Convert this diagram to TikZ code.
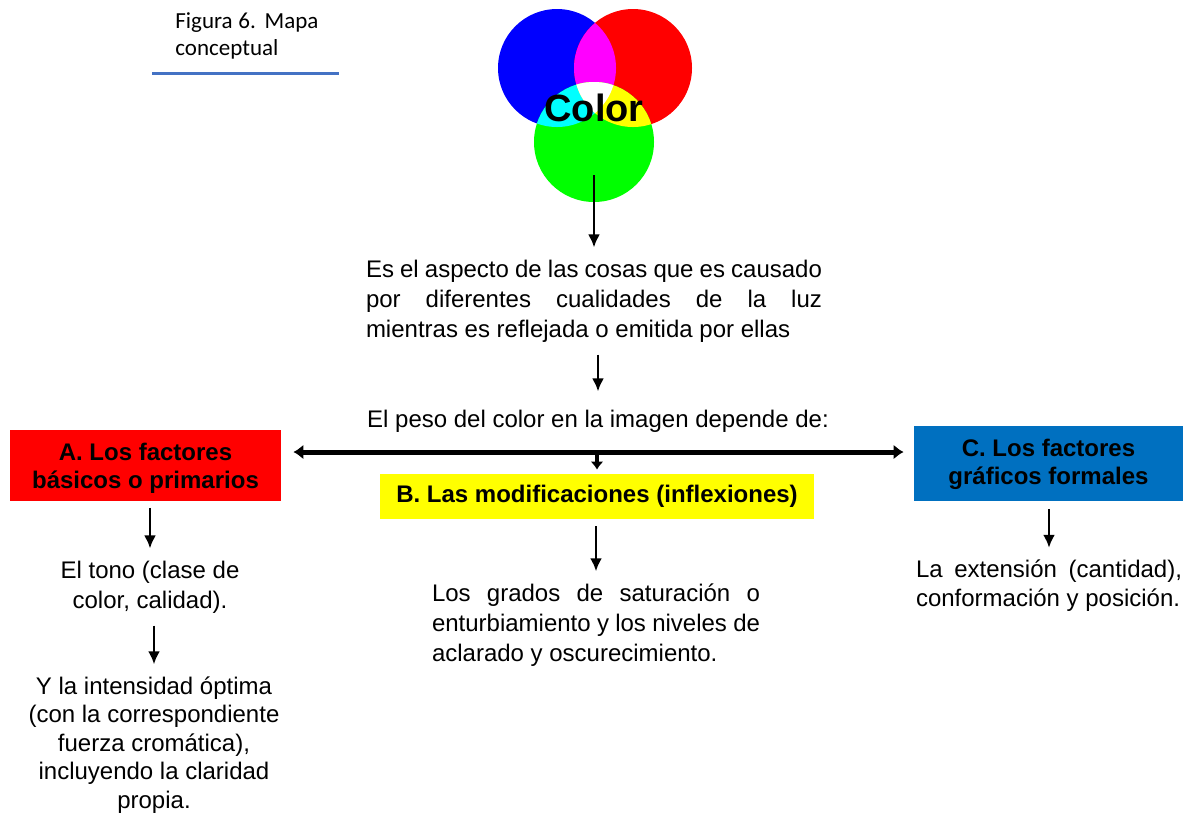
\documentclass[tikz,border=0pt]{standalone}
\usepackage{fontspec}
\setmainfont{Liberation Sans}
\newfontfamily\capfont{Carlito}
\usetikzlibrary{arrows.meta}

\definecolor{lightred}{RGB}{255,0,0}
\definecolor{lightgreen}{RGB}{0,255,0}
\definecolor{lightblue}{RGB}{0,0,255}
\definecolor{lightmagenta}{RGB}{255,0,255}
\definecolor{lightcyan}{RGB}{0,255,255}
\definecolor{lightyellow}{RGB}{255,255,0}
\definecolor{boxred}{RGB}{255,0,0}
\definecolor{boxyellow}{RGB}{255,255,0}
\definecolor{boxblue}{RGB}{0,112,192}
\definecolor{rulecol}{RGB}{68,114,196}

\newcommand{\fillline}[2]{\makebox[#1][s]{#2}}

\begin{document}
\begin{tikzpicture}[x=0.5pt,y=-0.5pt,
  >={Latex[length=6.5pt,width=6pt]},
  txt/.style={inner sep=6pt,align=center,font=\fontsize{12}{15}\selectfont},
  box/.style={inner sep=0pt,align=center,font=\bfseries\fontsize{12}{14}\selectfont},
  arr/.style={->,line width=1.2pt},
  dblarr/.style={<->,>={Latex[length=5pt,width=7.5pt]},line width=2.5pt},
  stubarr/.style={->,>={Latex[length=4pt,width=6.5pt]},line width=2pt},
  ]
\useasboundingbox (0,0) rectangle (1194,816);
%%
  % Caption
  \node[font=\capfont\fontsize{11.5}{13.5}\selectfont,align=left,anchor=west,inner sep=0pt] (cap)
    at (175,36) {\fillline{71.5pt}{Figura 6. Mapa}\\conceptual};
  \draw[rulecol,line width=1.5pt] (152,73) -- (339,73);
  % Node: Color (light circles)
  \coordinate (cb) at (557,68);
  \coordinate (cr) at (633,68);
  \coordinate (cg) at (594,142);
  \fill[lightblue] (cb) circle[radius=29.5pt];
  \fill[lightred] (cr) circle[radius=29.5pt];
  \fill[lightgreen] (cg) circle[radius=30pt];
\begin{scope}
  \clip (cb) circle[radius=29.5pt];
  \fill[lightmagenta] (cr) circle[radius=29.5pt];
  \fill[lightcyan] (cg) circle[radius=30pt];
\end{scope}
\begin{scope}
  \clip (cr) circle[radius=29.5pt];
  \fill[lightyellow] (cg) circle[radius=30pt];
\end{scope}
\begin{scope}
  \clip (cb) circle[radius=29.5pt];
  \clip (cr) circle[radius=29.5pt];
  \fill[white] (cg) circle[radius=30pt];
\end{scope}
  \node[font=\bfseries\fontsize{19}{22}\selectfont,inner sep=0pt] (color) at (594,108) {Color};
  % Node: definition
  \node[txt,align=left] (desc) at (594,301)
    {\fillline{228pt}{Es el aspecto de las cosas que es causado}\\
     \fillline{228pt}{por diferentes cualidades de la luz}\\
     mientras es reflejada o emitida por ellas};
  % Node: depends
  \node[txt] (dep) at (598,421) {El peso del color en la imagen depende de:};
  \coordinate (hub) at (597,452);
  % Node: A
  \node[box,fill=boxred,minimum width=135.5pt,minimum height=35.5pt] (A) at (145.5,465)
    {\rule{0pt}{12pt}A. Los factores\\básicos o primarios};
  % Node: B
  \node[box,fill=boxyellow,minimum width=217pt,minimum height=22.5pt] (B) at (597,496.5)
    {B. Las modificaciones (inflexiones)};
  % Node: C
  \node[box,fill=boxblue,minimum width=134.5pt,minimum height=37.5pt] (C) at (1048.5,463)
    {\rule{0pt}{10.5pt}C. Los factores\\gráficos formales};
  % Node: A items
  \node[txt] (tone) at (150,587) {El tono (clase de\\color, calidad).};
  \node[txt,font=\fontsize{12}{14.25}\selectfont] (inten) at (154,745)
    {Y la intensidad óptima\\(con la correspondiente\\fuerza cromática),\\incluyendo la claridad\\propia.};
  % Node: B items
  \node[txt,align=left] (grades) at (596,625)
    {\fillline{164pt}{Los grados de saturación o}\\
     \fillline{164pt}{enturbiamiento y los niveles de}\\
     aclarado y oscurecimiento.};
  % Node: C items
  \node[txt,align=left,font=\fontsize{12}{14.5}\selectfont] (ext) at (1049,586)
    {\fillline{133pt}{La extensión (cantidad),}\\
     conformación y posición.};
%
  % Edge: Color -> desc
  \draw[arr] (cg) ++(0,33) -- (desc.north);
  % Edge: desc -> dep
  \draw[arr,shorten >=3pt] (dep.north |- desc.south) -- (dep.north);
  % Edge: A <-> C
  \draw[dblarr,shorten <=6pt,shorten >=5pt] (hub -| A.east) -- (hub -| C.west);
  % Edge: hub -> B
  \draw[stubarr,shorten >=2pt] (hub) -- (B.north);
  % Edge: A -> tone -> inten
  \draw[arr,shorten <=3.5pt] (tone.north |- A.south) -- (tone.north);
  \draw[arr] (inten.north |- tone.south) -- (inten.north);
  % Edge: B -> grades
  \draw[arr,shorten <=3.5pt] (grades.north |- B.south) -- (grades.north);
  % Edge: C -> ext
  \draw[arr,shorten <=4pt] (ext.north |- C.south) -- (ext.north);
%
\end{tikzpicture}
\end{document}
